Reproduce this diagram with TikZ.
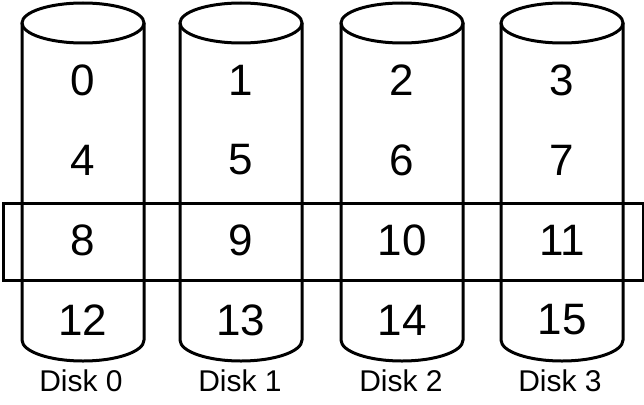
\documentclass[tikz,border=0pt]{standalone}
\usepackage{fontspec}
\setmainfont{Liberation Sans}
\tikzstyle{disk} = [line width=3pt]
\tikzstyle{stripe} = [line width=3pt]
\tikzstyle{block} = [inner sep=0pt, font=\fontsize{44}{52}\selectfont]
\tikzstyle{disklabel} = [inner sep=0pt, font=\fontsize{30}{36}\selectfont]
\newcommand{\drawdisk}[1][]{%
  \draw[disk] (#1,23) ellipse [x radius=61, y radius=20];
  \draw[disk] (#1-61,23) -- (#1-61,340) arc[start angle=180, end angle=0, x radius=61, y radius=21] -- (#1+61,23);
}

\begin{document}
\begin{tikzpicture}[x=1pt, y=-1pt]
            \useasboundingbox (0,0) rectangle (644,404);

            % disks
            \drawdisk[83]
            \drawdisk[241]
            \drawdisk[402]
            \drawdisk[562]

            % blocks
            \node[block] (b0) at (83 , 80) {0};
            \node[block] (b1) at (241 , 80) {1};
            \node[block] (b2) at (402 , 80) {2};
            \node[block] (b3) at (562 , 80) {3};
            \node[block] (b4) at (83 , 160) {4};
            \node[block] (b5) at (241 , 160) {5};
            \node[block] (b6) at (402 , 160) {6};
            \node[block] (b7) at (562 , 160) {7};
            \node[block] (b8) at (83 , 240) {8};
            \node[block] (b9) at (241 , 240) {9};
            \node[block] (b10) at (402 , 240) {10};
            \node[block] (b11) at (562 , 240) {11};
            \node[block] (b12) at (83 , 320) {12};
            \node[block] (b13) at (241 , 320) {13};
            \node[block] (b14) at (402 , 320) {14};
            \node[block] (b15) at (562 , 320) {15};

            % labels
            \node[disklabel] (d0) at (81 , 381) {Disk 0};
            \node[disklabel] (d1) at (240 , 381) {Disk 1};
            \node[disklabel] (d2) at (401 , 381) {Disk 2};
            \node[disklabel] (d3) at (560 , 381) {Disk 3};

            % stripe
            \draw[stripe] (3 , 203) rectangle (643 , 280);
\end{tikzpicture}
\end{document}
